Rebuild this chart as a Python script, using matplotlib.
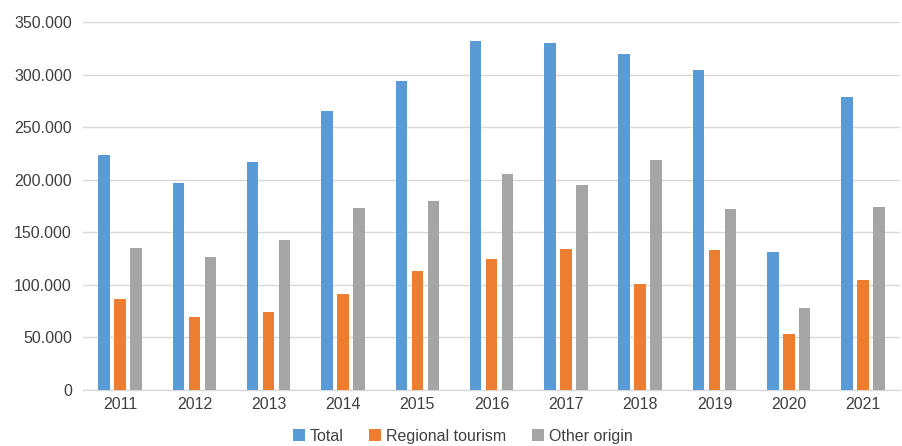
import matplotlib
matplotlib.use("Agg")
import matplotlib.pyplot as plt
import numpy as np
from matplotlib.ticker import FuncFormatter

YEARS = ["2011", "2012", "2013", "2014", "2015", "2016", "2017", "2018", "2019", "2020", "2021"]
TOTAL = [223500, 197000, 217000, 265500, 294000, 332000, 330500, 320000, 304000, 131000, 279000]
REGIONAL = [87000, 69500, 74000, 91500, 113000, 125000, 134000, 100500, 132800, 53500, 104600]
OTHER = [135500, 126500, 142700, 173500, 179500, 205800, 195300, 218800, 172200, 78300, 173700]

SERIES = [
    ("Total", TOTAL, "#5B9BD5"),
    ("Regional tourism", REGIONAL, "#ED7D31"),
    ("Other origin", OTHER, "#A5A5A5"),
]

TEXT_COLOR = "#404040"
GRID_COLOR = "#D9D9D9"


def thousands_dot(value, _pos):
    if value == 0:
        return "0"
    return f"{int(value):,}".replace(",", ".")


def main():
    plt.rcParams.update({"font.family": ["Liberation Sans", "DejaVu Sans"], "font.size": 11.5})

    fig = plt.figure(figsize=(9.02, 4.46), dpi=100)
    ax = fig.add_axes([0.092, 0.1256, 0.906, 0.825])

    x = np.arange(len(YEARS))
    width = 0.155
    step = 0.215
    for idx, (label, values, color) in enumerate(SERIES):
        ax.bar(x + (idx - 1) * step, values, width=width, color=color, label=label, zorder=3)

    ax.set_xlim(-0.5, len(YEARS) - 0.5)
    ax.set_ylim(0, 350000)
    ax.set_yticks(np.arange(0, 350001, 50000))
    ax.yaxis.set_major_formatter(FuncFormatter(thousands_dot))
    ax.set_xticks(x)
    ax.set_xticklabels(YEARS)
    ax.tick_params(axis="both", length=0, colors=TEXT_COLOR, labelsize=11.5)
    ax.tick_params(axis="y", pad=8)
    ax.tick_params(axis="x", pad=5)

    ax.grid(axis="y", color=GRID_COLOR, linewidth=1.0, zorder=0)
    ax.set_axisbelow(True)
    for side in ["top", "right", "left"]:
        ax.spines[side].set_visible(False)
    ax.spines["bottom"].set_color(GRID_COLOR)
    ax.spines["bottom"].set_linewidth(1.0)

    fig.legend(
        loc="center",
        bbox_to_anchor=(0.513, 0.022),
        ncols=3,
        frameon=False,
        handlelength=0.75,
        handleheight=0.75,
        handletextpad=0.3,
        columnspacing=1.6,
        fontsize=11.5,
        labelcolor=TEXT_COLOR,
    )

    fig.savefig("out.png", dpi=100)
    plt.close(fig)


if __name__ == "__main__":
    main()
